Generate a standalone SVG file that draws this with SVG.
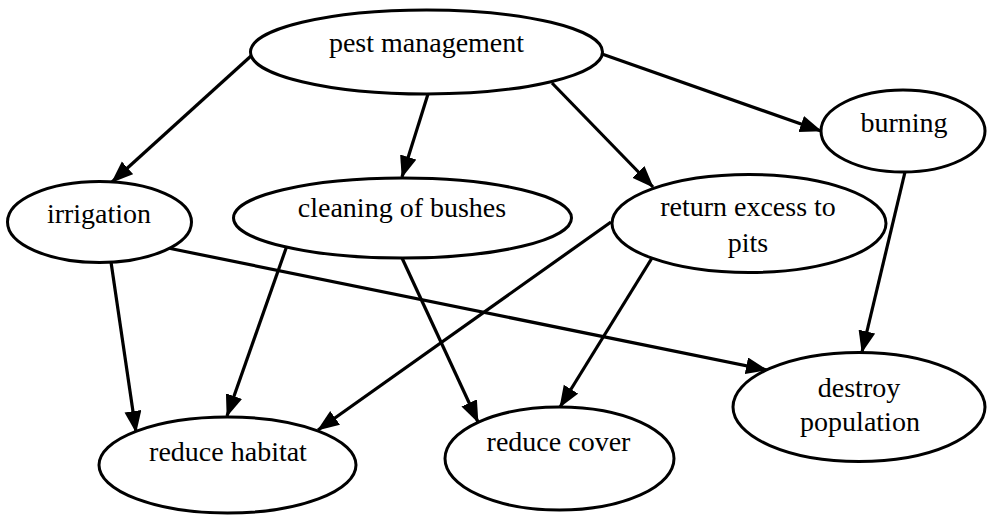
<svg xmlns="http://www.w3.org/2000/svg" width="987" height="515" viewBox="0 0 987 515">
<style>
.node ellipse{fill:#fff;stroke:#000;stroke-width:3}
.node text{font-family:"Liberation Serif","Times New Roman",serif;font-size:28px;fill:#000;text-anchor:middle}
.edges line{stroke:#000;stroke-width:3.2;marker-end:url(#arr)}
</style>
<defs>
<marker id="arr" markerUnits="userSpaceOnUse" markerWidth="24" markerHeight="18" refX="21" refY="8.5" orient="auto">
<path d="M0,0 L22,8.5 L0,17 z" fill="#000"/>
</marker>
</defs>
<rect width="987" height="515" fill="#fff"/>
<g class="edges" id="connectors">
<line x1="251" y1="56" x2="112" y2="182"/>
<line x1="428" y1="94" x2="402" y2="177"/>
<line x1="552" y1="83" x2="653" y2="187"/>
<line x1="602" y1="54" x2="821" y2="131"/>
<line x1="111" y1="262" x2="136" y2="432"/>
<line x1="168" y1="248" x2="767" y2="370"/>
<line x1="286.5" y1="247" x2="227" y2="416"/>
<line x1="402" y1="258" x2="478" y2="422"/>
<line x1="611" y1="222" x2="318" y2="430"/>
<line x1="652" y1="258" x2="560" y2="407"/>
<line x1="905" y1="172" x2="862" y2="352"/>
</g>
<g class="node" id="pest-management">
<ellipse cx="426.5" cy="52" rx="176" ry="42"/>
<text x="426.5" y="52">pest management</text>
</g>
<g class="node" id="burning">
<ellipse cx="903" cy="131" rx="82" ry="41"/>
<text x="904" y="132">burning</text>
</g>
<g class="node" id="irrigation">
<ellipse cx="99.5" cy="222" rx="92" ry="40.5"/>
<text x="99" y="223">irrigation</text>
</g>
<g class="node" id="cleaning-of-bushes">
<ellipse cx="402.5" cy="218" rx="169" ry="40"/>
<text x="402" y="217">cleaning of bushes</text>
</g>
<g class="node" id="return-excess-to-pits">
<ellipse cx="749" cy="223.5" rx="137" ry="49"/>
<text x="748" y="216">return excess to</text>
<text x="748" y="252">pits</text>
</g>
<g class="node" id="reduce-habitat">
<ellipse cx="227.5" cy="465" rx="128.5" ry="48"/>
<text x="228" y="461">reduce habitat</text>
</g>
<g class="node" id="reduce-cover">
<ellipse cx="559.5" cy="458.5" rx="114.5" ry="51.5"/>
<text x="558.5" y="451">reduce cover</text>
</g>
<g class="node" id="destroy-population">
<ellipse cx="859" cy="407" rx="126" ry="54.5"/>
<text x="859" y="397">destroy</text>
<text x="860" y="431">population</text>
</g>
</svg>
